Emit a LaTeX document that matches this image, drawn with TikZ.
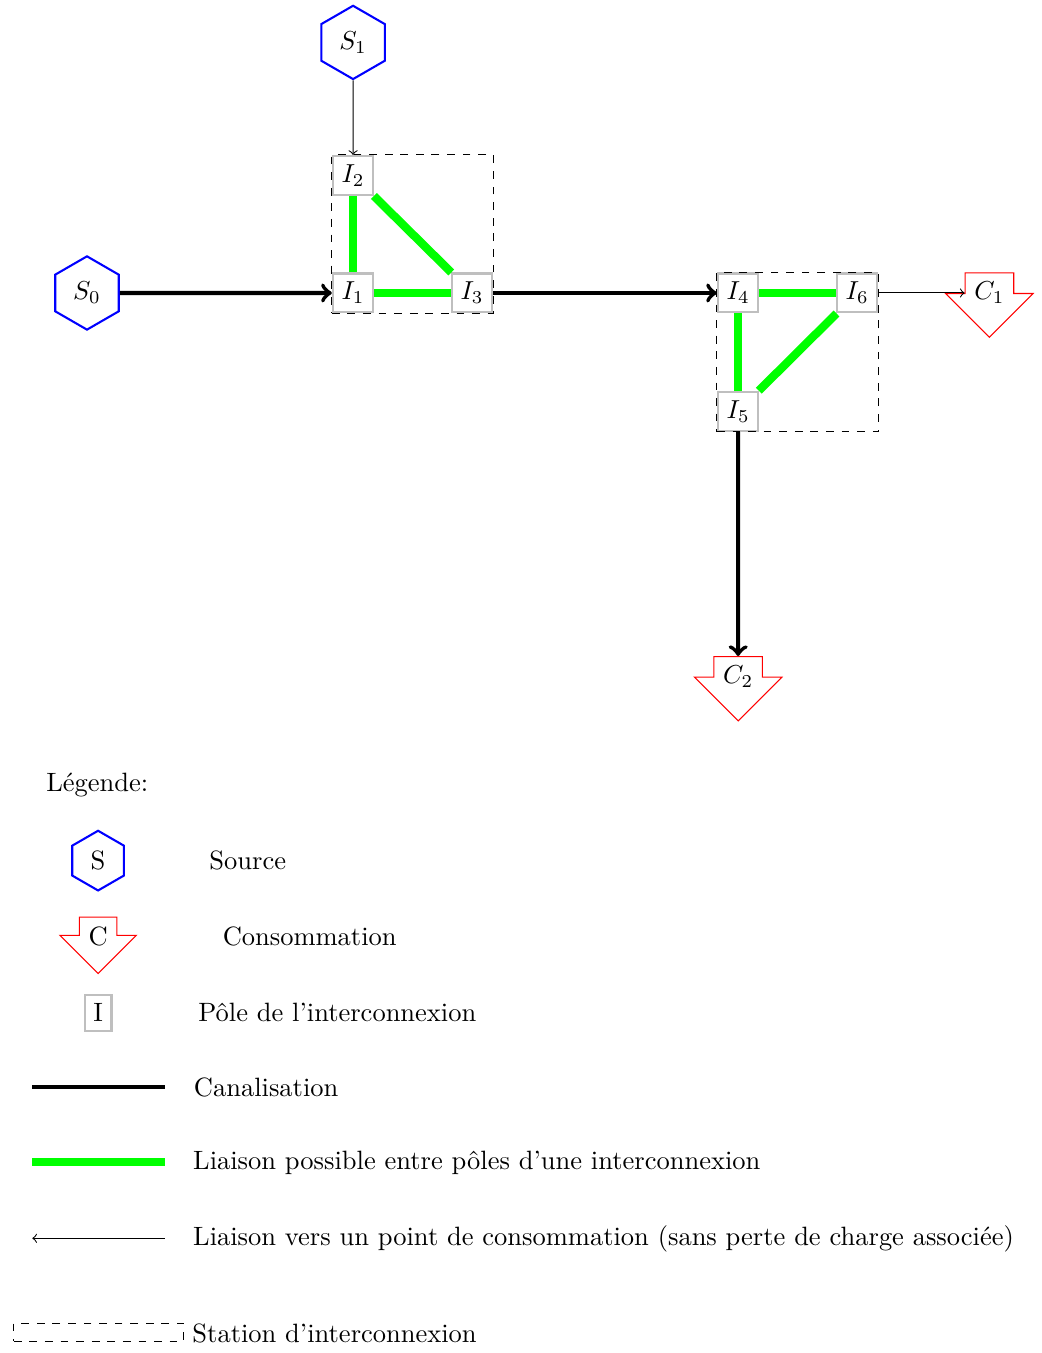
\documentclass[tikz,border=0pt]{standalone}
\usepackage{amsmath}
\usepackage{tikz}
\usetikzlibrary{positioning, shapes.geometric, shapes.arrows, fit}

\begin{document}
\begin{tikzpicture}[
        on grid,
        every node/.style={font=\fontsize{10.2}{12}\selectfont},
        source/.style={regular polygon, regular polygon sides=6, shape border rotate=30, draw=blue, thick},
        conso/.style={single arrow, draw=red, shape border rotate=270, single arrow head extend=7.5pt},
        pole/.style={rectangle, draw=lightgray, thick, fill=white},
        station/.style={rectangle, draw, dashed, inner sep=0pt},
        pipe/.style={draw, ultra thick, ->},
        link/.style={draw=green, line width=3.2pt},
        conn/.style={draw, ->},
        legtext/.style={anchor=west, inner sep=0pt}
    ]
    \useasboundingbox (-1.177,3.964) rectangle (12.921,-14.342);

    % reseau
    \node[source] (S0) at (0,0) {$S_0$};
    \node[pole, right=3.6cm of S0] (I1) {$I_1$};
    \node[pole, above=1.59cm of I1] (I2) {$I_2$};
    \node[pole, right=1.61cm of I1] (I3) {$I_3$};
    \node[source, above=1.8cm of I2] (S1) {$S_1$};
    \node[pole, right=3.6cm of I3] (I4) {$I_4$};
    \node[pole, right=1.61cm of I4] (I6) {$I_6$};
    \node[pole, below=1.6cm of I4] (I5) {$I_5$};
    \node[conso, right=1.79cm of I6] (C1) {$C_1$};
    \node[conso, below=3.59cm of I5] (C2) {$C_2$};

    \node[station, fit=(I1) (I2) (I3)] (station_a) {};
    \node[station, fit=(I4) (I5) (I6)] (station_b) {};

    % liaisons
    \path [pipe] (S0) -- (I1);
    \path [pipe] (I3) -- (I4);
    \path [pipe] (I5) -- (C2.north);
    \path [conn] (S1) -- (I2);
    \path [conn] (I6) -- (I6 -| C1.after head);
    \path [link] (I1) -- (I2);
    \path [link] (I2) -- (I3);
    \path [link] (I1) -- (I3);
    \path [link] (I4) -- (I5);
    \path [link] (I5) -- (I6);
    \path [link] (I4) -- (I6);

    % legende
    \node (leg_title) at (0.14,-6.65) {Légende:};
    \node[source] (leg_s) at (0.15,-7.68) {S};
    \node[conso] (leg_c) at (0.15,-8.70) {C};
    \node[pole] (leg_i) at (0.15,-9.74) {I};
    \coordinate (leg_a1) at (-0.74,-10.74);
    \coordinate (leg_a2) at (1.055,-10.74);
    \coordinate (leg_b1) at (-0.74,-11.76);
    \coordinate (leg_b2) at (1.055,-11.76);
    \coordinate (leg_c1) at (-0.74,-12.79);
    \coordinate (leg_c2) at (1.055,-12.79);
    \node[station, minimum width=2.3cm, minimum height=0.244cm] (leg_st) at (0.16,-14.06) {};

    \path [draw, ultra thick] (leg_a1) -- (leg_a2);
    \path [link] (leg_b1) -- (leg_b2);
    \path [draw, <-] (leg_c1) -- (leg_c2);

    \node[legtext] (txt_s) at (1.65,-7.68) {Source};
    \node[legtext] (txt_c) at (1.83,-8.71) {Consommation};
    \node[legtext] (txt_i) at (1.50,-9.74) {Pôle de l'interconnexion};
    \node[legtext] (txt_a) at (1.44,-10.75) {Canalisation};
    \node[legtext] (txt_b) at (1.43,-11.77) {Liaison possible entre pôles d'une interconnexion};
    \node[legtext] (txt_d) at (1.43,-12.80) {Liaison vers un point de consommation (sans perte de charge associée)};
    \node[legtext] (txt_e) at (1.42,-14.08) {Station d'interconnexion};
\end{tikzpicture}
\end{document}
